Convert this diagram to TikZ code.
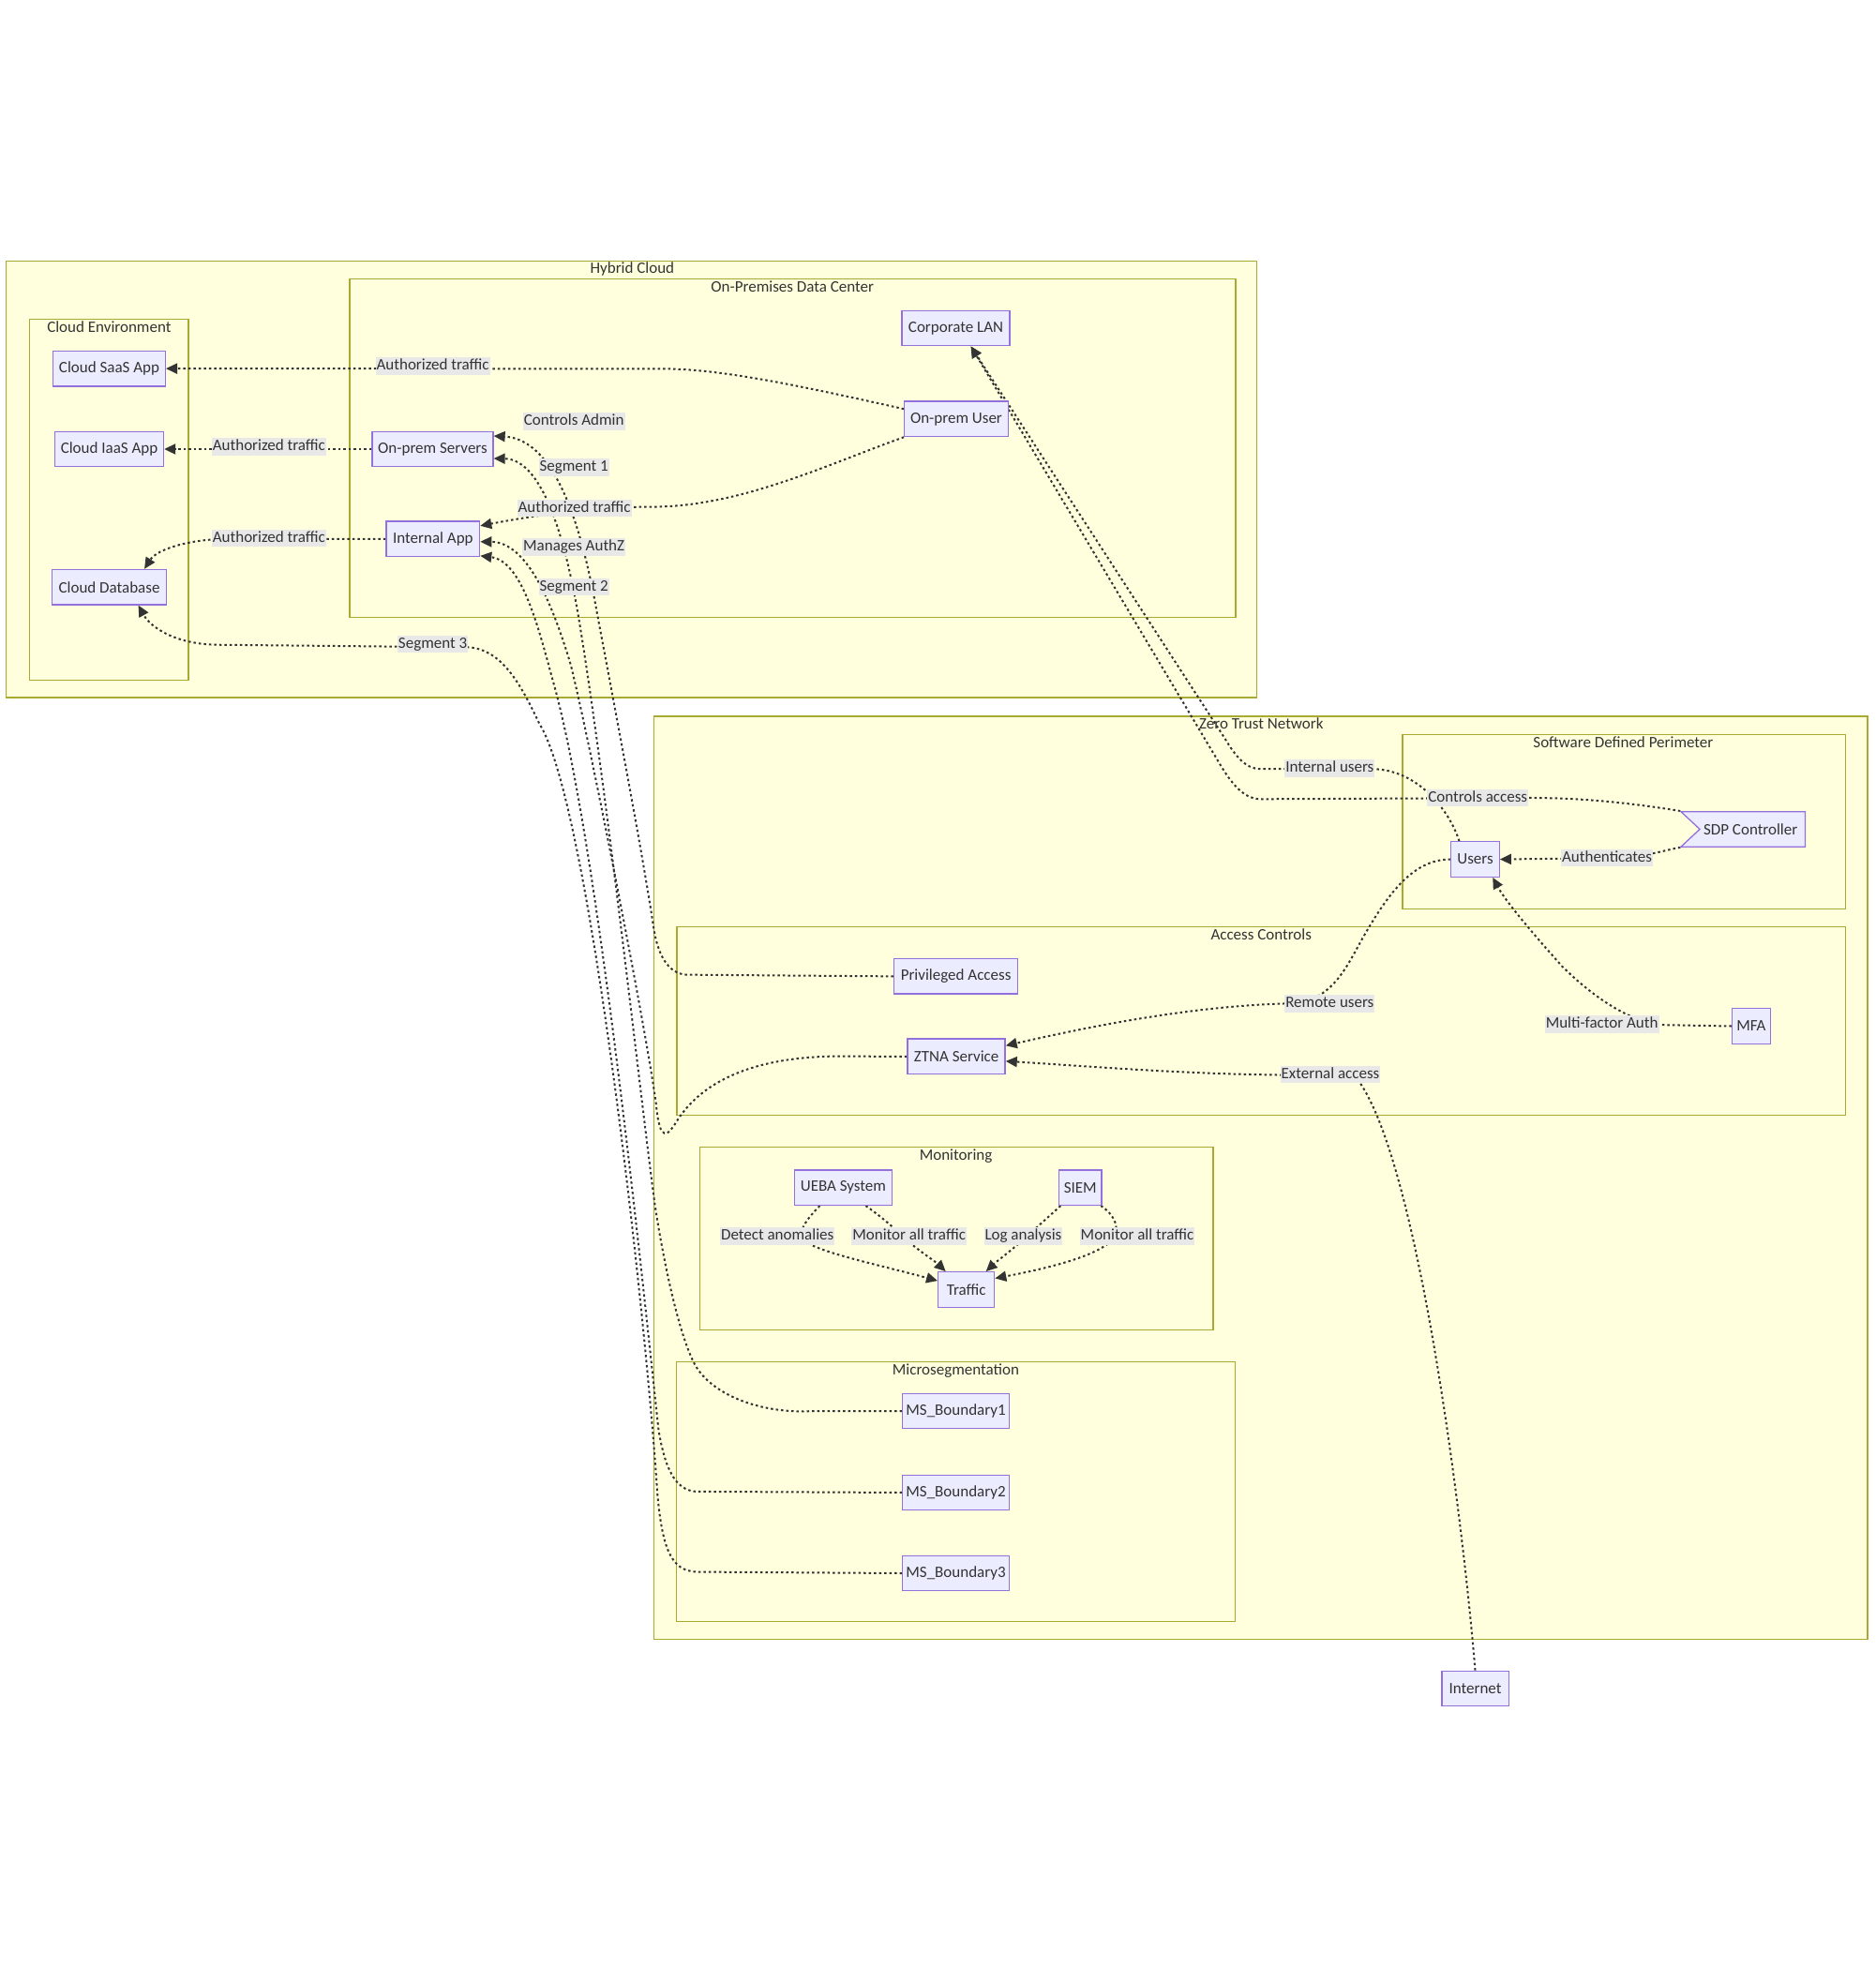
\documentclass[tikz,border=0pt]{standalone}
\usepackage{fontspec}
\setmainfont{Carlito}
\usetikzlibrary{arrows.meta,calc}
\pgfdeclarelayer{clusterlayer}
\pgfdeclarelayer{edgelayer}
\pgfsetlayers{clusterlayer,edgelayer,main}
\definecolor{clfill}{HTML}{FFFFDE}
\definecolor{cldraw}{HTML}{AAAA33}
\definecolor{ndfill}{HTML}{ECECFF}
\definecolor{nddraw}{HTML}{9370DB}
\definecolor{txt}{HTML}{333333}
\definecolor{lblbg}{HTML}{E8E8E8}
\begin{document}
\begin{tikzpicture}[x=1.3378pt,y=-1.3378pt,
  cluster/.style={fill=clfill,draw=cldraw,line width=1.3pt},
  ctitle/.style={text=txt,font=\fontsize{17}{20}\selectfont,inner sep=0pt,text height=12pt,text depth=3.5pt},
  box/.style={rectangle,fill=ndfill,draw=nddraw,line width=1.3pt,text=txt,font=\fontsize{17}{20}\selectfont,minimum height=37.5pt,inner xsep=2pt,inner ysep=0pt},
  elabel/.style={fill=lblbg,text=txt,font=\fontsize{17}{20}\selectfont,inner xsep=1pt,inner ysep=1.5pt,text height=12pt,text depth=3.5pt},
  conn/.style={draw=txt,line width=2pt,dash pattern=on 2.5pt off 3pt,-{Triangle[length=12pt,width=11pt]}}]

\begin{pgfonlayer}{clusterlayer}
\fill[white] (0,0) rectangle (1495,1568);
\path[use as bounding box] (0,0) rectangle (1495,1568);
\draw[cluster] (5,208) rectangle (1002,556);
\draw[cluster] (23.4,254.7) rectangle (150.2,542);
\draw[cluster] (278.7,222.5) rectangle (985,492);
\draw[cluster] (521.5,571) rectangle (1488.7,1306.9);
\draw[cluster] (1118,585.5) rectangle (1471,724.6);
\draw[cluster] (539.5,738.8) rectangle (1471,889);
\draw[cluster] (557.9,914.4) rectangle (967.2,1060.2);
\draw[cluster] (539.2,1085.6) rectangle (984.7,1292.4);
\node[ctitle] (t_hybrid) at (504,215) {Hybrid Cloud};
\node[ctitle] (t_cloud) at (87,261.6) {Cloud Environment};
\node[ctitle] (t_onprem) at (631.7,229.5) {On-Premises Data Center};
\node[ctitle] (t_ztn) at (1005.5,578) {Zero Trust Network};
\node[ctitle] (t_sdp) at (1294,592.5) {Software Defined Perimeter};
\node[ctitle] (t_acc) at (1005.4,746.3) {Access Controls};
\node[ctitle] (t_mon) at (762,921.4) {Monitoring};
\node[ctitle] (t_ms) at (761.9,1092.6) {Microsegmentation};
\end{pgfonlayer}

% nodes
\node[box,minimum width=119.6pt] (saas) at (87.1,293.8) {Cloud SaaS App};
\node[box,minimum width=116pt] (iaas) at (87.1,358) {Cloud IaaS App};
\node[box,minimum width=121.5pt] (db) at (87.1,468) {Cloud Database};
\node[box,minimum width=115pt] (corp) at (762,261.6) {Corporate LAN};
\node[box,minimum width=110.5pt] (opuser) at (762.3,334) {On-prem User};
\node[box,minimum width=129pt] (servers) at (344.9,358) {On-prem Servers};
\node[box,minimum width=99.5pt] (intapp) at (345.2,429.6) {Internal App};
\filldraw[fill=ndfill,draw=nddraw,line width=1.3pt] (1340,647) -- (1439,647) -- (1439,675) -- (1340,675) -- (1355,661) -- cycle;
\node[box,draw=none,fill=none,minimum width=132.4pt] (sdp) at (1389.5,661) {\hspace*{16pt}SDP Controller};
\node[box,minimum width=51.4pt] (users) at (1176,685) {Users};
\node[box,minimum width=132pt] (priv) at (762,778.3) {Privileged Access};
\node[box,minimum width=104pt] (ztna) at (762.4,842.2) {ZTNA Service};
\node[box,minimum width=40.7pt] (mfa) at (1396,818) {MFA};
\node[box,minimum width=103.5pt] (ueba) at (672.2,946.7) {UEBA System};
\node[box,minimum width=45.5pt] (siem) at (861.2,946.7) {SIEM};
\node[box,minimum width=60pt] (traffic) at (770.3,1028) {Traffic};
\node[box,minimum width=113.8pt] (ms1) at (762,1124.8) {MS\_Boundary1};
\node[box,minimum width=113.8pt] (ms2) at (762,1189.8) {MS\_Boundary2};
\node[box,minimum width=113.8pt] (ms3) at (762,1254.1) {MS\_Boundary3};
\node[box,minimum width=71.3pt] (internet) at (1176,1346) {Internet};

\begin{pgfonlayer}{edgelayer}
\draw[conn] ([yshift=10.7pt]opuser.west) .. controls (640,308) and (575,294) .. (529,294) -- (saas.east);
\draw[conn] (servers.west) -- (iaas.east);
\draw[conn] (intapp.west) -- (180,429.6) .. controls (150,430) and (125,438) .. ([xshift=37.5pt]db.north);
\draw[conn] (opuser.south west) .. controls (660,370) and (590,404) .. (520,404) .. controls (470,404) and (420,412) .. ([yshift=14pt]intapp.east);
\draw[conn] ([xshift=-17pt]users.north) .. controls (1155,645) and (1130,614) .. (1095,613) -- (1005,613) .. controls (993,613) and (985,603) .. (976,588) -- ([xshift=16pt]corp.south);
\draw[conn] (sdp.north west) .. controls (1300,640) and (1260,636) .. (1220,636) -- (1005,637) .. controls (990,637) and (980,622) .. (970,605) -- ([xshift=16pt]corp.south);
\draw[conn] (sdp.south west) .. controls (1325,678) and (1310,684) .. (1280,684) -- (users.east);
\draw[conn] (users.west) .. controls (1125,685) and (1105,715) .. (1085,750) .. controls (1070,778) and (1058,800) .. (1025,800) .. controls (950,802) and (870,818) .. ([yshift=11.6pt]ztna.east);
\draw[conn] (internet.north) .. controls (1165,1200) and (1130,930) .. (1084,863) .. controls (1072,857) and (1060,857) .. (1040,857) .. controls (950,857) and (870,850) .. ([yshift=-5pt]ztna.east);
\draw[conn] (mfa.west) -- (1325,817) .. controls (1300,815) and (1270,795) .. (1245,770) .. controls (1220,742) and (1200,718) .. ([xshift=18.7pt]users.south);
\draw[conn] (priv.west) -- (547,777) .. controls (532,776) and (524,760) .. (521,739) .. controls (512,680) and (495,590) .. (476,489) .. controls (462,410) and (440,350) .. ([yshift=14pt]servers.east);
\draw[conn] (ms1.west) -- (635,1125) .. controls (600,1124) and (565,1110) .. (553,1086) .. controls (540,1060) and (528,1000) .. (522,960) .. controls (510,870) and (485,640) .. (463,503) .. controls (450,420) and (430,366) .. ([yshift=-10pt]servers.east);
\draw[conn] (ztna.west) -- (665,842) .. controls (600,843) and (560,862) .. (540,893) .. controls (532,906) and (526,912) .. (523,880) .. controls (515,820) and (470,590) .. (455,530) .. controls (440,480) and (420,432) .. ([yshift=-3pt]intapp.east);
\draw[conn] (ms2.west) -- (555,1189) .. controls (538,1188) and (530,1170) .. (525,1140) .. controls (510,1000) and (475,660) .. (440,540) .. controls (428,495) and (415,447) .. ([yshift=-18pt]intapp.east);
\draw[conn] (ms3.west) -- (555,1253) .. controls (535,1252) and (528,1235) .. (524,1190) .. controls (515,1050) and (470,640) .. (430,577) .. controls (415,545) and (400,518) .. (374,516) -- (175,514) .. controls (140,514) and (120,500) .. ([xshift=31pt]db.south);
\draw[conn] ([xshift=-25pt]ueba.south) .. controls (645,970) and (636,980) .. (640,988) .. controls (650,998) and (700,1008) .. ([yshift=9.4pt]traffic.west);
\draw[conn] ([xshift=24pt]ueba.south) .. controls (700,968) and (712,978) .. (720,986) .. controls (732,997) and (745,1005) .. ([xshift=-22pt]traffic.north);
\draw[conn] ([xshift=-21pt]siem.south) .. controls (838,968) and (828,977) .. (818,986) .. controls (805,998) and (795,1005) .. ([xshift=21pt]traffic.north);
\draw[conn] ([xshift=22pt]siem.south) .. controls (888,968) and (895,980) .. (885,990) .. controls (870,1003) and (830,1012) .. ([yshift=12pt]traffic.east);
% labels
\node[elabel] (l_saas) at (345,292) {Authorized traffic};
\node[elabel] (l_iaas) at (214.4,356.3) {Authorized traffic};
\node[elabel] (l_db) at (214.4,429) {Authorized traffic};
\node[elabel] (l_int) at (457.8,405) {Authorized traffic};
\node[elabel] (l_ca) at (457.5,335.9) {Controls Admin};
\node[elabel] (l_s1) at (457.5,372.5) {Segment 1};
\node[elabel] (l_ma) at (457.5,436) {Manages AuthZ};
\node[elabel] (l_s2) at (457.5,467.7) {Segment 2};
\node[elabel] (l_s3) at (345,513.3) {Segment 3};
\node[elabel] (l_iu) at (1060,612.5) {Internal users};
\node[elabel] (l_cacc) at (1178,636) {Controls access};
\node[elabel] (l_auth) at (1281,684) {Authenticates};
\node[elabel] (l_ru) at (1060,800) {Remote users};
\node[elabel] (l_mfa) at (1277,816.5) {Multi-factor Auth};
\node[elabel] (l_ext) at (1060.5,856.6) {External access};
\node[elabel] (l_da) at (619.7,985.5) {Detect anomalies};
\node[elabel] (l_m1) at (724.7,985.5) {Monitor all traffic};
\node[elabel] (l_la) at (815.7,985.5) {Log analysis};
\node[elabel] (l_m2) at (906.6,985.5) {Monitor all traffic};
\end{pgfonlayer}
\end{tikzpicture}
\end{document}
